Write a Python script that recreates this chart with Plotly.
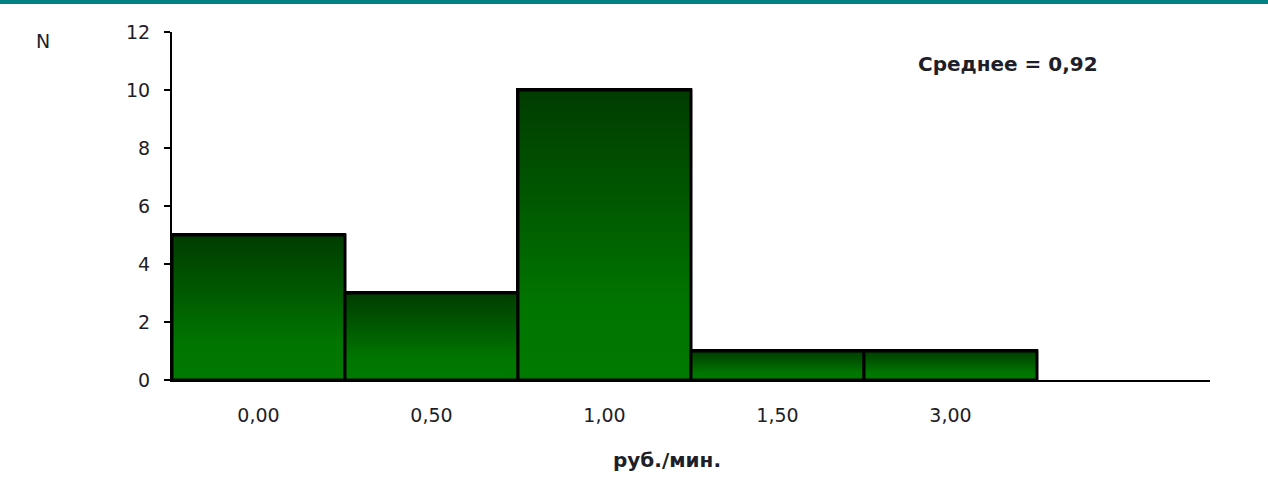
import plotly.graph_objects as go

categories = ["0,00", "0,50", "1,00", "1,50", "3,00"]
counts = [5, 3, 10, 1, 1]
y_ticks = [0, 2, 4, 6, 8, 10, 12]
mean_label = "Среднее = 0,92"
x_title = "руб./мин."
y_title = "N"

FONT = "DejaVu Sans"
TXT = "#1e1e28"
grad = [[0.0, "#007a00"], [0.25, "#007600"], [0.6, "#005a00"], [1.0, "#003c00"]]

fig = go.Figure()
pos = list(range(len(categories)))

# base bar trace (data)
fig.add_trace(go.Bar(x=pos, y=counts, width=1.0,
                     marker=dict(color="#006400", line=dict(color="black", width=3)),
                     showlegend=False, hoverinfo="skip"))

# gradient overlay per bar, derived from the same data
for i, v in zip(pos, counts):
    fig.add_trace(go.Scatter(
        x=[i - 0.5, i - 0.5, i + 0.5, i + 0.5, i - 0.5],
        y=[0, v, v, 0, 0],
        mode="lines", fill="toself",
        fillgradient=dict(type="vertical", colorscale=grad),
        line=dict(color="black", width=3),
        showlegend=False, hoverinfo="skip"))

fig.update_layout(
    width=1268, height=477,
    margin=dict(l=172, r=58, t=32, b=97),
    paper_bgcolor="white", plot_bgcolor="white",
    font=dict(family=FONT, size=19, color=TXT),
    xaxis=dict(range=[-0.5, 5.5], tickvals=pos, ticktext=categories,
               showgrid=False, zeroline=False, showline=True, linecolor="black",
               linewidth=2, ticks="", ticklabelstandoff=17,
               tickfont=dict(family=FONT, size=19, color=TXT)),
    yaxis=dict(range=[0, 12], tickvals=y_ticks, showgrid=False, zeroline=False,
               showline=True, linecolor="black", linewidth=2, ticks="outside",
               ticklen=6, tickwidth=2, tickcolor="black", ticklabelstandoff=10,
               tickfont=dict(family=FONT, size=19, color=TXT)),
    shapes=[dict(type="rect", xref="paper", yref="paper",
                 x0=-172/1038, x1=1 + 58/1038, y0=1 + 28/348, y1=1 + 33/348,
                 fillcolor="#008080", line=dict(width=0), layer="above")],
    annotations=[
        dict(text=f"<b>{mean_label}</b>", xref="paper", yref="paper",
             x=(1008 - 172) / 1038, y=1 - (64 - 32) / 348, showarrow=False,
             font=dict(family=FONT, size=20, color=TXT), xanchor="center", yanchor="middle"),
        dict(text=f"<b>{x_title}</b>", xref="paper", yref="paper",
             x=(667 - 172) / 1038, y=-(460 - 380) / 348, showarrow=False,
             font=dict(family=FONT, size=20, color=TXT), xanchor="center", yanchor="middle"),
        dict(text=y_title, xref="paper", yref="paper",
             x=(43 - 172) / 1038, y=1 - (41 - 32) / 348, showarrow=False,
             font=dict(family=FONT, size=19, color=TXT), xanchor="center", yanchor="middle"),
    ],
    bargap=0,
)

fig.write_html("out.html")
